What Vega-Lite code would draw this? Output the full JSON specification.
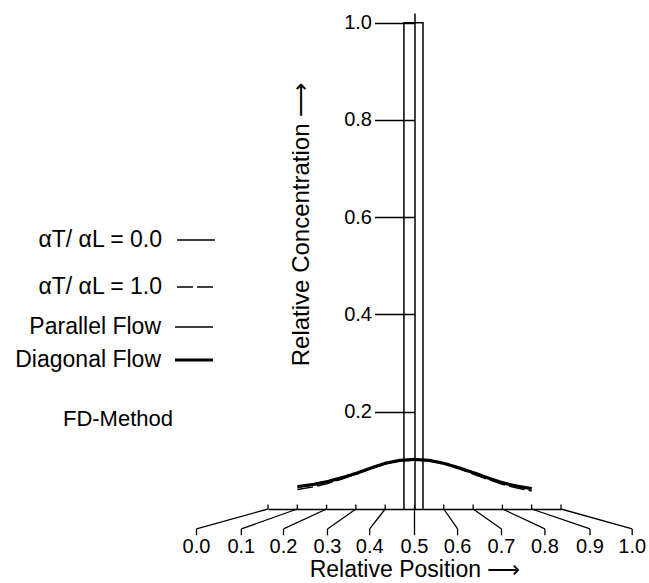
{
  "$schema": "https://vega.github.io/schema/vega-lite/v6.json",
  "width": 293,
  "height": 496,
  "autosize": {"type": "none"},
  "padding": {"left": 268, "top": 13, "right": 88, "bottom": 74},
  "background": "white",
  "config": {
    "view": {"stroke": null},
    "font": "Liberation Sans",
    "axis": {"grid": false}
  },
  "datasets": {
    "curves": [
      {"series": "rect", "ratio": "αT/ αL = 0.0", "flow": "Parallel Flow", "x": 0.464, "c": 0},
      {"series": "rect", "ratio": "αT/ αL = 0.0", "flow": "Parallel Flow", "x": 0.464, "c": 1.0},
      {"series": "rect", "ratio": "αT/ αL = 0.0", "flow": "Parallel Flow", "x": 0.529, "c": 1.0},
      {"series": "rect", "ratio": "αT/ αL = 0.0", "flow": "Parallel Flow", "x": 0.529, "c": 0},
      {"series": "diag", "ratio": "αT/ αL = 0.0", "flow": "Diagonal Flow", "x": 0.1, "c": 0.046},
      {"series": "diag", "ratio": "αT/ αL = 0.0", "flow": "Diagonal Flow", "x": 0.15, "c": 0.050},
      {"series": "diag", "ratio": "αT/ αL = 0.0", "flow": "Diagonal Flow", "x": 0.2, "c": 0.056},
      {"series": "diag", "ratio": "αT/ αL = 0.0", "flow": "Diagonal Flow", "x": 0.25, "c": 0.064},
      {"series": "diag", "ratio": "αT/ αL = 0.0", "flow": "Diagonal Flow", "x": 0.3, "c": 0.073},
      {"series": "diag", "ratio": "αT/ αL = 0.0", "flow": "Diagonal Flow", "x": 0.35, "c": 0.084},
      {"series": "diag", "ratio": "αT/ αL = 0.0", "flow": "Diagonal Flow", "x": 0.4, "c": 0.094},
      {"series": "diag", "ratio": "αT/ αL = 0.0", "flow": "Diagonal Flow", "x": 0.45, "c": 0.100},
      {"series": "diag", "ratio": "αT/ αL = 0.0", "flow": "Diagonal Flow", "x": 0.5, "c": 0.102},
      {"series": "diag", "ratio": "αT/ αL = 0.0", "flow": "Diagonal Flow", "x": 0.55, "c": 0.100},
      {"series": "diag", "ratio": "αT/ αL = 0.0", "flow": "Diagonal Flow", "x": 0.6, "c": 0.094},
      {"series": "diag", "ratio": "αT/ αL = 0.0", "flow": "Diagonal Flow", "x": 0.65, "c": 0.085},
      {"series": "diag", "ratio": "αT/ αL = 0.0", "flow": "Diagonal Flow", "x": 0.7, "c": 0.075},
      {"series": "diag", "ratio": "αT/ αL = 0.0", "flow": "Diagonal Flow", "x": 0.75, "c": 0.064},
      {"series": "diag", "ratio": "αT/ αL = 0.0", "flow": "Diagonal Flow", "x": 0.8, "c": 0.054},
      {"series": "diag", "ratio": "αT/ αL = 0.0", "flow": "Diagonal Flow", "x": 0.85, "c": 0.047},
      {"series": "diag", "ratio": "αT/ αL = 0.0", "flow": "Diagonal Flow", "x": 0.9, "c": 0.042},
      {"series": "par", "ratio": "αT/ αL = 1.0", "flow": "Parallel Flow", "x": 0.1, "c": 0.040},
      {"series": "par", "ratio": "αT/ αL = 1.0", "flow": "Parallel Flow", "x": 0.15, "c": 0.045},
      {"series": "par", "ratio": "αT/ αL = 1.0", "flow": "Parallel Flow", "x": 0.2, "c": 0.052},
      {"series": "par", "ratio": "αT/ αL = 1.0", "flow": "Parallel Flow", "x": 0.25, "c": 0.061},
      {"series": "par", "ratio": "αT/ αL = 1.0", "flow": "Parallel Flow", "x": 0.3, "c": 0.072},
      {"series": "par", "ratio": "αT/ αL = 1.0", "flow": "Parallel Flow", "x": 0.35, "c": 0.083},
      {"series": "par", "ratio": "αT/ αL = 1.0", "flow": "Parallel Flow", "x": 0.4, "c": 0.093},
      {"series": "par", "ratio": "αT/ αL = 1.0", "flow": "Parallel Flow", "x": 0.45, "c": 0.099},
      {"series": "par", "ratio": "αT/ αL = 1.0", "flow": "Parallel Flow", "x": 0.5, "c": 0.101},
      {"series": "par", "ratio": "αT/ αL = 1.0", "flow": "Parallel Flow", "x": 0.55, "c": 0.099},
      {"series": "par", "ratio": "αT/ αL = 1.0", "flow": "Parallel Flow", "x": 0.6, "c": 0.093},
      {"series": "par", "ratio": "αT/ αL = 1.0", "flow": "Parallel Flow", "x": 0.65, "c": 0.083},
      {"series": "par", "ratio": "αT/ αL = 1.0", "flow": "Parallel Flow", "x": 0.7, "c": 0.072},
      {"series": "par", "ratio": "αT/ αL = 1.0", "flow": "Parallel Flow", "x": 0.75, "c": 0.061},
      {"series": "par", "ratio": "αT/ αL = 1.0", "flow": "Parallel Flow", "x": 0.8, "c": 0.051},
      {"series": "par", "ratio": "αT/ αL = 1.0", "flow": "Parallel Flow", "x": 0.85, "c": 0.043},
      {"series": "par", "ratio": "αT/ αL = 1.0", "flow": "Parallel Flow", "x": 0.9, "c": 0.037}
    ],
    "xticks": [
      {"v": 0.0, "pos": -0.244, "label": "0.0"},
      {"v": 0.1, "pos": -0.091, "label": "0.1"},
      {"v": 0.2, "pos": 0.053, "label": "0.2"},
      {"v": 0.3, "pos": 0.203, "label": "0.3"},
      {"v": 0.4, "pos": 0.347, "label": "0.4"},
      {"v": 0.5, "pos": 0.5, "label": "0.5"},
      {"v": 0.6, "pos": 0.647, "label": "0.6"},
      {"v": 0.7, "pos": 0.797, "label": "0.7"},
      {"v": 0.8, "pos": 0.945, "label": "0.8"},
      {"v": 0.9, "pos": 1.099, "label": "0.9"},
      {"v": 1.0, "pos": 1.243, "label": "1.0"}
    ]
  },
  "layer": [
    {
      "data": {"name": "curves"},
      "mark": {"type": "line", "color": "black", "strokeCap": "butt", "clip": false},
      "encoding": {
        "x": {
          "field": "x", "type": "quantitative",
          "scale": {"domain": [0, 1], "nice": false, "zero": false},
          "axis": {
            "orient": "bottom", "labels": false, "ticks": false,
            "domainColor": "black", "domainWidth": 1.5,
            "title": "Relative Position ⟶",
            "titleFont": "Liberation Sans", "titleFontSize": 23, "titleFontWeight": "normal",
            "titleColor": "black", "titleBaseline": "top", "titleY": 49
          }
        },
        "y": {
          "field": "c", "type": "quantitative",
          "scale": {"domain": [0, 1.02], "nice": false, "zero": false},
          "axis": {
            "orient": "left", "offset": -146.5,
            "values": [0.2, 0.4, 0.6, 0.8, 1.0], "format": ".1f",
            "tickSize": 40, "tickWidth": 1.5, "tickColor": "black",
            "domainColor": "black", "domainWidth": 1.5,
            "labelPadding": 3, "labelFontSize": 20, "labelFont": "Liberation Sans",
            "labelColor": "black", "labelFlush": false,
            "title": "Relative Concentration ⟶",
            "titleFont": "Liberation Sans", "titleFontSize": 24, "titleFontWeight": "normal",
            "titleColor": "black", "titleX": -101, "titleY": 211
          }
        },
        "detail": {"field": "series"},
        "order": {"value": null},
        "strokeDash": {
          "field": "ratio", "type": "nominal",
          "scale": {"domain": ["αT/ αL = 0.0", "αT/ αL = 1.0"], "range": [[1, 0], [16, 4]]},
          "legend": {
            "orient": "none", "legendX": -92, "legendY": 207,
            "title": null, "padding": 0,
            "symbolType": "stroke", "symbolSize": 1444,
            "symbolStrokeColor": "black", "symbolStrokeWidth": 1.5,
            "labelAlign": "right", "labelOffset": -54, "labelLimit": 0,
            "labelFont": "Liberation Sans", "labelFontSize": 23, "labelColor": "black",
            "rowPadding": 15
          }
        },
        "strokeWidth": {
          "field": "flow", "type": "ordinal",
          "scale": {"domain": ["Parallel Flow", "Diagonal Flow"], "range": [1.5, 3.2]},
          "legend": {
            "orient": "none", "legendX": -205, "legendY": 294,
            "title": "FD-Method", "titleOrient": "bottom", "titlePadding": 37,
            "titleFont": "Liberation Sans", "titleFontSize": 22, "titleFontWeight": "normal",
            "titleColor": "black", "titleAnchor": "start", "titleAlign": "right",
            "padding": 0,
            "symbolType": "stroke", "symbolSize": 1444, "symbolStrokeColor": "black",
            "labelAlign": "right", "labelOffset": -54, "labelLimit": 0,
            "labelFont": "Liberation Sans", "labelFontSize": 23, "labelColor": "black",
            "rowPadding": -8
          }
        }
      }
    },
    {
      "data": {"name": "xticks"},
      "mark": {"type": "rule", "color": "black", "strokeWidth": 1.3},
      "encoding": {
        "x": {"field": "v", "type": "quantitative"},
        "y": {"datum": 0},
        "y2": {"datum": 0.009}
      }
    },
    {
      "data": {"name": "xticks"},
      "mark": {"type": "rule", "color": "black", "strokeWidth": 1.3},
      "encoding": {
        "x": {"field": "v", "type": "quantitative"},
        "x2": {"field": "pos"},
        "y": {"datum": 0},
        "y2": {"datum": -0.041}
      }
    },
    {
      "data": {"name": "xticks"},
      "mark": {"type": "rule", "color": "black", "strokeWidth": 1.3},
      "encoding": {
        "x": {"field": "pos", "type": "quantitative"},
        "y": {"datum": -0.041},
        "y2": {"datum": -0.054}
      }
    },
    {
      "data": {"name": "xticks"},
      "mark": {"type": "text", "color": "black", "font": "Liberation Sans", "fontSize": 20, "align": "center", "baseline": "middle"},
      "encoding": {
        "x": {"field": "pos", "type": "quantitative"},
        "y": {"datum": -0.078},
        "text": {"field": "label"}
      }
    }
  ]
}
